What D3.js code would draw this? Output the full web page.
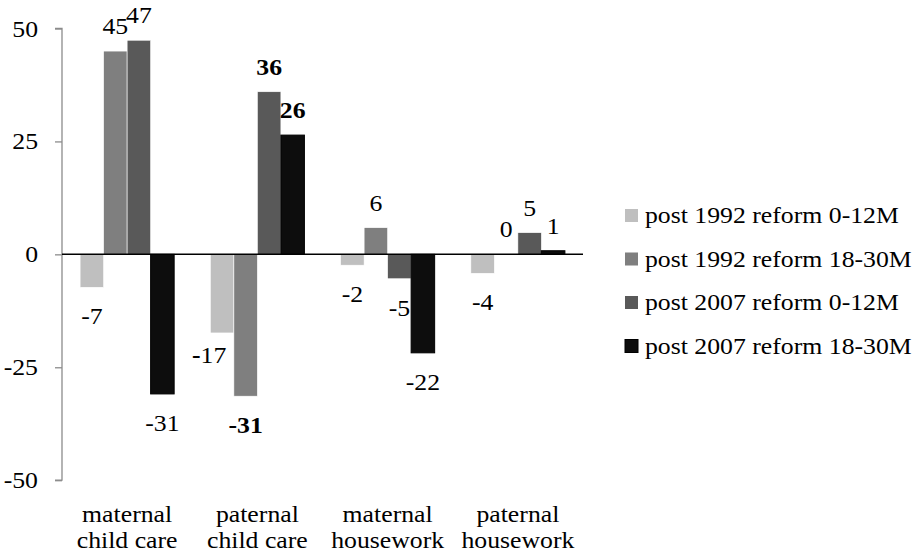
<!DOCTYPE html>
<html>
<head>
<meta charset="utf-8">
<script src="https://cdn.jsdelivr.net/npm/d3@7"></script>
<style>
  html, body { margin: 0; padding: 0; background: #fff; }
  svg { display: block; }
</style>
</head>
<body>
<svg id="chart" width="922" height="556"></svg>
<script>
// ---- data ----
const categories = [["maternal", "child care"], ["paternal", "child care"], ["maternal", "housework"], ["paternal", "housework"]];
const seriesNames = ["post 1992 reform 0-12M", "post 1992 reform 18-30M", "post 2007 reform 0-12M", "post 2007 reform 18-30M"];
const post1992_0_12 = [-7.3, -17.4, -2.4, -4.2];
const post1992_18_30 = [45.0, -31.4, 5.9, 0.0];
const post2007_0_12 = [47.4, 36.0, -5.4, 4.8];
const post2007_18_30 = [-30.9, 26.4, -21.8, 0.8];
const yTicks = [-50, -25, 0, 25, 50];
// bold labels: [categoryIndex, seriesIndex]
const boldLabels = [[1, 1], [1, 2], [1, 3]];

const seriesValues = [post1992_0_12, post1992_18_30, post2007_0_12, post2007_18_30];
const colors = ["#bfbfbf", "#7f7f7f", "#595959", "#0d0d0d"];

const svg = d3.select("#chart");
const FS = 23, SX = 1.12;
const FONT = "'Liberation Serif', 'Times New Roman', Times, serif";

function addText(g, x, y, str, anchor, weight) {
  return g.append("text")
    .attr("transform", `translate(${x},${y}) scale(${SX},1)`)
    .attr("text-anchor", anchor || "start")
    .attr("font-family", FONT)
    .attr("font-size", FS)
    .attr("font-weight", weight || "normal")
    .attr("fill", "#000")
    .text(str);
}

const x0 = d3.scaleBand().domain(d3.range(categories.length)).range([62, 583])
  .paddingInner(0.278).paddingOuter(0.139);
const x1 = d3.scaleBand().domain(d3.range(seriesNames.length)).range([0, x0.bandwidth()]);
const y = d3.scaleLinear().domain([-50, 50]).range([480.2, 28.5]);

// y axis
const axisG = svg.append("g").attr("transform", "translate(62,0)");
const yAxis = d3.axisLeft(y).tickValues(yTicks).tickSize(7).tickFormat("");
axisG.call(yAxis);
axisG.select(".domain").attr("stroke", "#8c8c8c").attr("stroke-width", 1.3)
  .attr("d", `M-7,${y(50)}H0V${y(-50)}H-7`);
axisG.selectAll(".tick line").attr("stroke", "#8c8c8c").attr("stroke-width", 1.3);
yTicks.forEach(t => addText(svg, 38, y(t) + 8, String(t), "end"));

// bars
const bars = [];
categories.forEach((c, ci) => seriesValues.forEach((vals, si) => bars.push({ ci, si, v: vals[ci] })));

svg.append("g").selectAll("rect").data(bars).join("rect")
  .attr("x", d => x0(d.ci) + x1(d.si))
  .attr("width", x1.bandwidth())
  .attr("y", d => y(Math.max(0, d.v)))
  .attr("height", d => Math.abs(y(d.v) - y(0)))
  .attr("fill", d => colors[d.si])
  .attr("stroke", d => d.si === 3 ? "#000" : "#fff")
  .attr("stroke-width", d => d.si === 3 ? 1 : 0.6);

// zero line
svg.append("line").attr("x1", 62).attr("x2", 583).attr("y1", y(0)).attr("y2", y(0))
  .attr("stroke", "#000").attr("stroke-width", 1.5);

// value labels
const labelG = svg.append("g");
bars.forEach(d => {
  const bold = boldLabels.some(b => b[0] === d.ci && b[1] === d.si);
  let cx = x0(d.ci) + x1(d.si) + x1.bandwidth() / 2;
  let by = d.v >= 0 ? y(d.v) - 17 : y(d.v) + 37;
  const txt = String(Math.round(d.v));
  if (d.ci === 1 && d.si === 0) {
    // manually nudged label with bold minus sign
    cx -= 13; by -= 7;
    const t = addText(labelG, cx, by, "", "middle");
    t.append("tspan").attr("font-weight", "bold").text("-");
    t.append("tspan").text(txt.slice(1));
    return;
  }
  addText(labelG, cx, by, txt, "middle", bold ? "bold" : "normal");
});

// category labels
categories.forEach((c, ci) => {
  const cx = x0(ci) + x0.bandwidth() / 2;
  addText(svg, cx, 522, c[0], "middle");
  addText(svg, cx, 548, c[1], "middle");
});

// legend
const legend = svg.append("g");
seriesNames.forEach((name, i) => {
  const cy = 216 + i * 43.5;
  legend.append("rect").attr("x", 625).attr("y", cy - 7).attr("width", 13).attr("height", 13)
    .attr("fill", colors[i]).attr("stroke", i === 3 ? "#000" : "none");
  addText(legend, 645, cy + 7, name, "start");
});
</script>
</body>
</html>
